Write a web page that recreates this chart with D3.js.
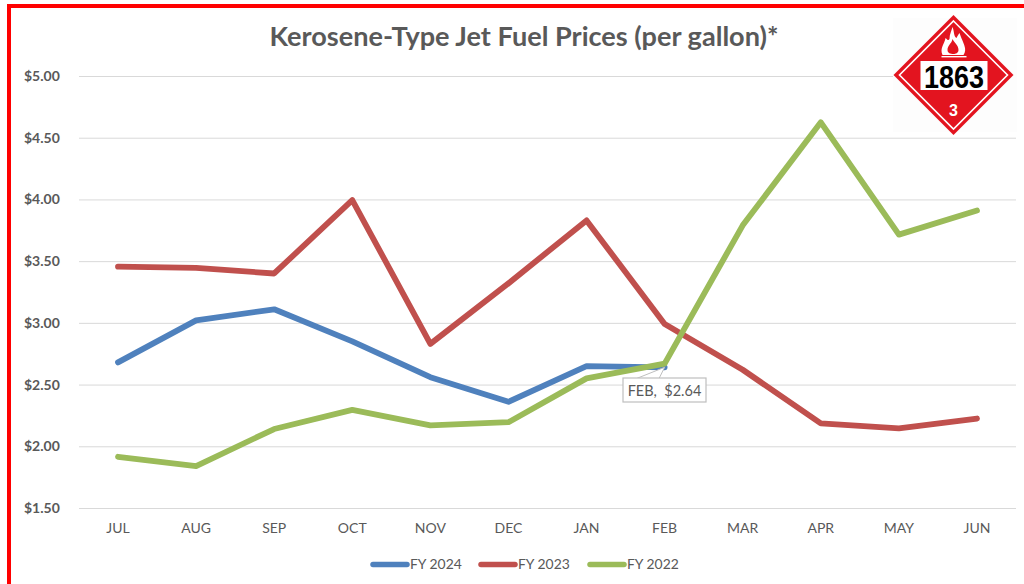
<!DOCTYPE html>
<html><head><meta charset="utf-8">
<script src="https://cdn.jsdelivr.net/npm/d3@7"></script>
<style>html,body{margin:0;padding:0;background:#fff;overflow:hidden}svg{display:block}text{font-family:Lato,"Open Sans",sans-serif}</style>
</head><body><div id="c"></div>
<script>
const months=["JUL","AUG","SEP","OCT","NOV","DEC","JAN","FEB","MAR","APR","MAY","JUN"];
const yTicks=[1.5,2,2.5,3,3.5,4,4.5,5];
const fy2024=[2.68,3.02,3.11,2.85,2.56,2.36,2.65,2.64];
const fy2023=[3.455,3.445,3.40,3.995,2.83,3.32,3.83,2.99,2.62,2.185,2.145,2.225];
const fy2022=[1.915,1.84,2.14,2.295,2.17,2.195,2.55,2.67,3.79,4.625,3.715,3.91];
const seriesNames=["FY 2024","FY 2023","FY 2022"];
const seriesColors=["#4f81bd","#c0504d","#9bbb59"];
const seriesValues=[fy2024,fy2023,fy2022];
const titleText="Kerosene-Type Jet Fuel Prices (per gallon)*";
const calloutText="FEB,  $2.64";
const placardNumber="1863", placardClass="3";

const svg=d3.select("#c").append("svg").attr("width",1024).attr("height",584);
svg.append("path").attr("d","M9,584V6H1024").attr("fill","none").attr("stroke","#ff0000").attr("stroke-width",4);

const x=d3.scalePoint().domain(months).range([118,977]);
const y=d3.scaleLinear().domain([1.5,5]).range([508,76]);

const grid=svg.append("g");
grid.selectAll("line").data(yTicks).join("line")
 .attr("x1",79).attr("x2",1016).attr("y1",d=>y(d)+.5).attr("y2",d=>y(d)+.5)
 .attr("stroke","#d9d9d9").attr("stroke-width",1);
svg.append("g").selectAll("text").data(yTicks).join("text")
 .attr("x",24).attr("y",d=>y(d)+5).attr("font-size",14).attr("font-weight",700).attr("fill","#595959")
 .text(d=>d3.format("$.2f")(d));
svg.append("g").selectAll("text").data(months).join("text")
 .attr("x",d=>x(d)).attr("y",533).attr("text-anchor","middle").attr("font-size",14).attr("fill","#595959").text(d=>d);

svg.append("text").attr("x",524).attr("y",46).attr("text-anchor","middle")
 .attr("font-size",27.1).attr("font-weight",700).attr("fill","#595959").text(titleText);

const line=d3.line().x((d,i)=>x(months[i])).y(d=>y(d)).curve(d3.curveLinear);
seriesValues.forEach((v,i)=>{
 svg.append("path").attr("d",line(v)).attr("fill","none").attr("stroke",seriesColors[i])
  .attr("stroke-width",5.8).attr("stroke-linecap","round").attr("stroke-linejoin","round");
});

const cx=x("FEB"),cy=y(2.64);
svg.append("path").attr("d",`M${cx-40},${cy+16}L${cx},${cy}L${cx-8},${cy+16}`).attr("fill","#fff").attr("stroke","#bfbfbf");
svg.append("rect").attr("x",623).attr("y",378).attr("width",83).attr("height",24).attr("fill","#fff").attr("stroke","#bfbfbf").attr("stroke-width",1.2);
svg.append("path").attr("d",`M${cx-39},${cy+17}H${cx-9}`).attr("stroke","#fff").attr("stroke-width",2);
svg.append("text").attr("x",664.5).attr("y",396).attr("text-anchor","middle").attr("font-size",14.5).attr("fill","#595959").style("white-space","pre").text(calloutText);

const lx=[370,478,587];
const lg=svg.append("g");
seriesNames.forEach((n,i)=>{
 lg.append("line").attr("x1",lx[i]+3).attr("x2",lx[i]+37).attr("y1",564.5).attr("y2",564.5)
  .attr("stroke",seriesColors[i]).attr("stroke-width",5.5).attr("stroke-linecap","round");
 lg.append("text").attr("x",lx[i]+40).attr("y",569).attr("font-size",13.9).attr("fill","#595959").text(n);
});

// placard
svg.append("rect").attr("x",893).attr("y",18).attr("width",124).attr("height",114).attr("fill","#fdfdfd");
const p=svg.append("g").attr("transform","translate(953.5,75)");
const diamond=r=>`M0,${-r}L${r},0L0,${r}L${-r},0Z`;
p.append("path").attr("d",diamond(60)).attr("fill","#e3141f");
p.append("path").attr("d",diamond(54)).attr("fill","none").attr("stroke","#fff").attr("stroke-width",1.6);
p.append("rect").attr("x",-33).attr("y",-14).attr("width",67).attr("height",29).attr("fill","#fff");
p.append("text").attr("x",-29.5).attr("y",12.5).attr("textLength",60).attr("lengthAdjust","spacingAndGlyphs")
 .attr("font-size",32).attr("font-weight",700).attr("fill","#000")
 .style("font-family","'Liberation Sans',sans-serif").text(placardNumber);
p.append("text").attr("x",0).attr("y",41).attr("text-anchor","middle").attr("font-size",16).attr("font-weight",700).attr("fill","#fff").style("font-family","'Liberation Sans',sans-serif").text(placardClass);
p.append("path").attr("d","M-11,-20C-14,-27 -9,-31 -8,-37C-6,-35 -5,-34 -4,-36C-4,-41 -2,-44 -1,-48C1,-43 0,-39 3,-37C4,-39 5,-41 6,-42C8,-36 10,-33 11,-29C12,-26 12,-23 10,-20Z").attr("fill","#fff");
p.append("path").attr("d","M-6,-25C-6,-30 -2,-31 -1,-36C1,-32 5,-30 5,-25C5,-22 2,-21 0,-21C-3,-21 -6,-22 -6,-25Z").attr("fill","#e3141f");
p.append("rect").attr("x",-12).attr("y",-19).attr("width",25).attr("height",1.4).attr("fill","#fff");
</script></body></html>
